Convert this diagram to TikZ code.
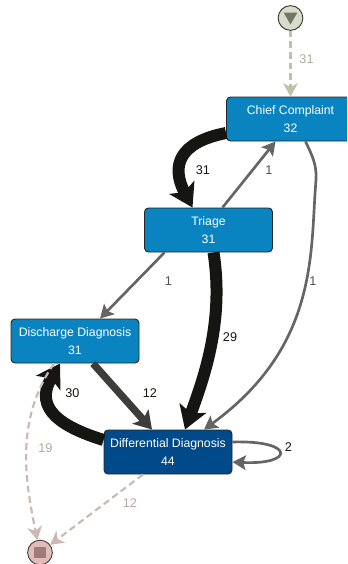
\documentclass[tikz,border=0pt]{standalone}
\usepackage{fontspec}
\setmainfont{Liberation Sans}
\usetikzlibrary{shapes.geometric,positioning,calc}
\usetikzlibrary{arrows.meta}
\definecolor{actblue}{HTML}{0A84C1}
\definecolor{actdark}{HTML}{004A8A}
\definecolor{edgegray}{HTML}{666464}
\definecolor{edgedark}{HTML}{3D3D39}
\definecolor{edgeblack}{HTML}{151512}
\definecolor{startgreen}{HTML}{BCC4A8}
\definecolor{endpink}{HTML}{CDB9B4}
\definecolor{endfill}{HTML}{E0BDB8}
\definecolor{endmarkfill}{HTML}{A07A78}

\begin{document}
\begin{tikzpicture}[x=0.75pt, y=-0.75pt,
	activity/.style={rectangle, draw=black!85, line width=0.7pt, rounded corners=3pt, minimum width=96pt, minimum height=33pt, inner sep=0pt, align=center, text=white, text depth=-1pt, font=\fontsize{9.2}{13.5}\selectfont},
	thin edge/.style={-{Stealth[length=10pt, width=11pt, inset=2pt]}, draw=edgegray, line width=2pt},
	mid edge/.style={-{Stealth[length=13pt, width=16pt, inset=3pt]}, draw=edgedark, line width=5.5pt},
	heavy edge/.style={-{Stealth[length=17pt, width=21pt, inset=4pt]}, draw=edgeblack, line width=9pt},
	start edge/.style={-{Stealth[length=10pt, width=11pt, inset=3pt]}, draw=startgreen, line width=1.6pt, dash pattern=on 5pt off 3pt},
	end edge/.style={-{Stealth[length=10pt, width=11pt, inset=3pt]}, draw=endpink, line width=1.6pt, dash pattern=on 5pt off 3pt},
	count/.style={font=\fontsize{9.5}{11}\selectfont, inner sep=0pt}]
	\clip (0,0) rectangle (347,564);
	\fill[white] (0,0) rectangle (347,564);

	% Nodes

	\node [circle, draw=black!70!startgreen, fill=startgreen!60, line width=0.7pt, minimum size=18.5pt, inner sep=0pt] (start) at (290.5,18) {};
	\node [regular polygon, regular polygon sides=3, shape border rotate=180, fill=black!40!startgreen, minimum size=12pt, inner sep=0pt] (startmark) at (290.5,16.5) {};
	\node [activity, fill=actblue] (chief) at (290.5,119) {Chief Complaint\\32};
	\node [activity, fill=actblue] (triage) at (208.5,230) {Triage\\31};
	\node [activity, fill=actblue] (discharge) at (75,341) {Discharge Diagnosis\\31};
	\node [activity, fill=actdark] (differential) at (168,452) {Differential Diagnosis\\44};
	\node [circle, draw=black!65!endpink, fill=endfill, line width=0.7pt, minimum size=18.5pt, inner sep=0pt] (end) at (40,552.5) {};
	\node [rectangle, fill=endmarkfill, minimum size=8.5pt, inner sep=0pt] (endmark) at (40,552.5) {};

	% Arrows

	\draw[start edge] (start) -- (chief.north);
	\draw[heavy edge] ($ (chief.west) +(0,14) $) .. controls (180,142) and (170,165) .. ($ (triage.north) +(-16,0) $);
	\draw[thin edge] ($ (triage.north) +(14,0) $) -- ($ (chief.south) +(-15,0) $);
	\draw[thin edge] ($ (triage.south) +(-44,0) $) -- ($ (discharge.north) +(25,0) $);
	\draw[heavy edge] ($ (triage.south) +(5,0) $) .. controls (224,320) and (205,375) .. ($ (differential.north) +(17,0) $);
	\draw[thin edge] ($ (chief.south) +(15,0) $) .. controls (312,155) and (317,165) .. (316,180) .. controls (310,250) and (320,345) .. ($ (differential.north) +(36,0) $);
	\draw[mid edge] ($ (discharge.south) +(18,0) $) -- ($ (differential.north) +(-16,0) $);
	\draw[heavy edge] ($ (differential.west) +(0,-12) $) .. controls (65,428) and (32,410) .. ($ (discharge.south) +(-15,0) $);
	\draw[thin edge] ($ (differential.east) +(0,-10) $) .. controls (295,440) and (295,465) .. ($ (differential.east) +(0,10) $);
	\draw[end edge] ($ (discharge.south) +(-21,0) $) .. controls (15,420) and (25,480) .. (end);
	\draw[end edge] ($ (differential.south) +(-25,0) $) -- (end);

	% Labels

	\node [count, text=startgreen!90!black] (lstart) at (306.5,59.5) {31};
	\node [count, text=edgeblack] (lchief) at (203,170.5) {31};
	\node [count, text=edgegray!80!black] (lback) at (269,170.5) {1};
	\node [count, text=edgegray!80!black] (ltriage) at (168.5,281.5) {1};
	\node [count, text=edgeblack] (lheavy) at (230,337.5) {29};
	\node [count, text=edgegray!80!black] (lchiefdiff) at (313,281.5) {1};
	\node [count, text=edgeblack] (lthirty) at (72.5,393) {30};
	\node [count, text=edgeblack] (ltwelve) at (150,393) {12};
	\node [count, text=endpink!90!black] (lnineteen) at (45.5,448) {19};
	\node [count, text=endpink!90!black] (lendtwelve) at (130,503.5) {12};
	\node [count, text=edgeblack] (lloop) at (288.5,447.5) {2};
\end{tikzpicture}
\end{document}
